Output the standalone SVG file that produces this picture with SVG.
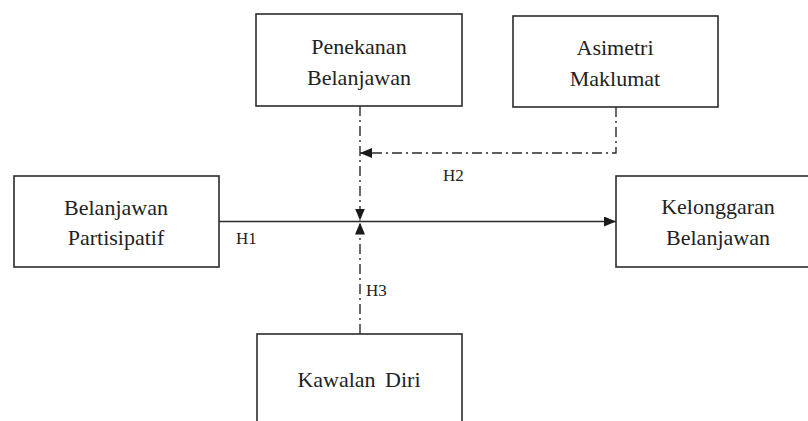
<svg xmlns="http://www.w3.org/2000/svg" width="808" height="421" viewBox="0 0 808 421">
<style>
.box{fill:#fff;stroke:#2b2b2b;stroke-width:1.6}
.t{font-family:'Liberation Serif','DejaVu Serif',serif;font-size:22px;fill:#222;text-anchor:middle}
.lbl{font-family:'Liberation Serif','DejaVu Serif',serif;font-size:17px;fill:#222}
.solid{fill:none;stroke:#2b2b2b;stroke-width:1.5}
.dash{fill:none;stroke:#2b2b2b;stroke-width:1.4;stroke-dasharray:10 4 2 4}
</style>
<defs>
<marker id="ah" markerUnits="userSpaceOnUse" markerWidth="12" markerHeight="10" refX="12" refY="5" orient="auto">
<path d="M0,0 L12,5 L0,10 Z" fill="#1a1a1a"/>
</marker>
</defs>
<rect width="808" height="421" fill="#fff"/>
<g id="penekanan">
<rect class="box" x="256" y="14" width="206" height="92"/>
<text class="t" x="359" y="54" font-family="Liberation Serif">Penekanan</text>
<text class="t" x="359" y="85" font-family="Liberation Serif">Belanjawan</text>
</g>
<g id="asimetri">
<rect class="box" x="513" y="16" width="205" height="91"/>
<text class="t" x="615" y="55">Asimetri</text>
<text class="t" x="615" y="86">Maklumat</text>
</g>
<g id="partisipatif">
<rect class="box" x="14" y="176" width="205" height="91"/>
<text class="t" x="116" y="215">Belanjawan</text>
<text class="t" x="116" y="245">Partisipatif</text>
</g>
<g id="kelonggaran">
<rect class="box" x="616" y="176" width="200" height="91"/>
<text class="t" x="718" y="214">Kelonggaran</text>
<text class="t" x="718" y="245">Belanjawan</text>
</g>
<g id="kawalan">
<rect class="box" x="257" y="334" width="205" height="100"/>
<text class="t" x="359" y="387" word-spacing="4">Kawalan Diri</text>
</g>
<g id="connectors">
<line class="solid" x1="219" y1="221.5" x2="616" y2="221.5" marker-end="url(#ah)"/>
<line class="dash" x1="360" y1="106" x2="360" y2="220.5" marker-end="url(#ah)"/>
<line class="dash" x1="360" y1="334" x2="360" y2="222.5" marker-end="url(#ah)"/>
<polyline class="dash" points="616,107 616,153 360,153" marker-end="url(#ah)"/>
<text class="lbl" x="236" y="244">H1</text>
<text class="lbl" x="443" y="181">H2</text>
<text class="lbl" x="366" y="296">H3</text>
</g>
</svg>
